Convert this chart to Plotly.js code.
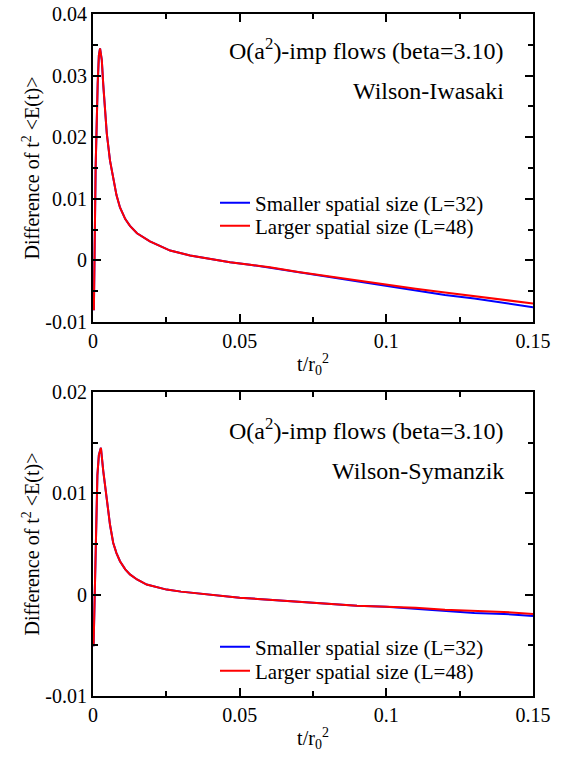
<!DOCTYPE html>
<html>
<head>
<meta charset="utf-8">
<script src="https://cdn.plot.ly/plotly-3.0.1.min.js"></script>
<style>html,body{margin:0;padding:0;background:#fff;}</style>
</head>
<body>
<div id="chart" style="width:569px;height:758px;"></div>
<script>
// ---- Data ----
// Top panel: Wilson-Iwasaki
const tTop = [0.0003,0.0006,0.0009,0.0016,0.0020,0.0024,0.0030,0.0035,0.0040,0.0047,0.0058,0.0068,0.0080,0.0092,0.0110,0.0126,0.0150,0.0194,0.0263,0.0331,0.0400,0.0467,0.0535,0.0603,0.0700,0.0800,0.0900,0.1000,0.1100,0.1200,0.1300,0.1400,0.1500];
const topL32 = [-0.0081,0.004,0.0151,0.0287,0.0333,0.0344,0.0325,0.0285,0.0250,0.0206,0.0162,0.0135,0.0106,0.0086,0.0067,0.0056,0.0044,0.0031,0.0016,0.0008,0.0002,-0.0003,-0.0007,-0.0012,-0.0020,-0.0027,-0.0034,-0.0042,-0.0049,-0.0056,-0.0062,-0.0069,-0.0076];
const topL48 = [-0.0081,0.004,0.0151,0.0287,0.0333,0.0344,0.0325,0.0285,0.0250,0.0206,0.0162,0.0135,0.0106,0.0086,0.0067,0.0056,0.0044,0.0031,0.0016,0.0008,0.0002,-0.0003,-0.0007,-0.0011,-0.0019,-0.0026,-0.0033,-0.0040,-0.0046,-0.0052,-0.0058,-0.0064,-0.0070];
// Bottom panel: Wilson-Symanzik
const tBot = [0.0002,0.0006,0.0010,0.00125,0.0015,0.0020,0.0027,0.0035,0.0047,0.0058,0.0069,0.0080,0.0092,0.0110,0.0126,0.0150,0.0183,0.0220,0.0251,0.0300,0.0365,0.0400,0.0500,0.0600,0.0700,0.0800,0.0900,0.1000,0.1100,0.1200,0.1300,0.1400,0.1500];
const botL32 = [-0.0051,0.0000,0.0075,0.0100,0.0118,0.0138,0.0145,0.0122,0.0095,0.0069,0.0051,0.0041,0.0033,0.0025,0.0020,0.0015,0.0010,0.0007,0.0005,0.0003,0.0001,0.0000,-0.0003,-0.0005,-0.0007,-0.0009,-0.0011,-0.0012,-0.0014,-0.0016,-0.0018,-0.0019,-0.0021];
const botL48 = [-0.0051,0.0000,0.0075,0.0100,0.0118,0.0138,0.0145,0.0122,0.0095,0.0069,0.0051,0.0041,0.0033,0.0025,0.0020,0.0015,0.0010,0.0007,0.0005,0.0003,0.0001,0.0000,-0.0003,-0.0005,-0.0007,-0.0009,-0.0011,-0.0012,-0.0013,-0.0015,-0.0016,-0.0017,-0.0019];

const seriesNames = ["Smaller spatial size (L=32)", "Larger spatial size (L=48)"];
const panelLabels = ["Wilson-Iwasaki", "Wilson-Symanzik"];
const panelTitle = "O(a<sup>2</sup>)-imp flows (beta=3.10)";
const xTickVals = [0, 0.05, 0.1, 0.15];
const xTickText = ["0", "0.05", "0.1", "0.15"];
const yTopTickVals = [-0.01, 0, 0.01, 0.02, 0.03, 0.04];
const yTopTickText = ["-0.01", "0", "0.01", "0.02", "0.03", "0.04"];
const yBotTickVals = [-0.01, 0, 0.01, 0.02];
const yBotTickText = ["-0.01", "0", "0.01", "0.02"];
const xTitle = "t/r<sub>0</sub><sup>2</sup>";
const yTitle = "Difference of t<sup>2</sup> &lt;E(t)&gt;";

// ---- Plot ----
const SERIF = "Liberation Serif";
const BLUE = "rgb(0,0,255)", RED = "rgb(255,0,0)";

const traces = [
  {x: tTop, y: topL32, name: seriesNames[0], mode: "lines", line: {color: BLUE, width: 2}, xaxis: "x", yaxis: "y", legend: "legend"},
  {x: tTop, y: topL48, name: seriesNames[1], mode: "lines", line: {color: RED, width: 2}, xaxis: "x", yaxis: "y", legend: "legend2"},
  {x: tBot, y: botL32, name: seriesNames[0], mode: "lines", line: {color: BLUE, width: 2}, xaxis: "x2", yaxis: "y2", legend: "legend3"},
  {x: tBot, y: botL48, name: seriesNames[1], mode: "lines", line: {color: RED, width: 2}, xaxis: "x2", yaxis: "y2", legend: "legend4"}
];

function xAxis(anchor, dom) {
  return {
    domain: dom, anchor: anchor, range: [0, 0.15],
    tickvals: xTickVals, ticktext: xTickText,
    ticks: "inside", ticklen: 8, tickwidth: 1.5, tickcolor: "#000",
    minor: {ticks: "inside", ticklen: 5, tickwidth: 1.5, tickcolor: "#000", tickvals: [0.025, 0.075, 0.125]},
    showline: true, linewidth: 2, linecolor: "#000", mirror: "ticks",
    showgrid: false, zeroline: false,
    tickfont: {family: SERIF, size: 20, color: "#000"},
    title: {text: xTitle, font: {family: SERIF, size: 20, color: "#000"}, standoff: 6}
  };
}
function yAxis(anchor, dom, range, vals, text, minorVals) {
  return {
    domain: dom, anchor: anchor, range: range,
    tickvals: vals, ticktext: text,
    ticks: "inside", ticklen: 8, tickwidth: 1.5, tickcolor: "#000",
    minor: {ticks: "inside", ticklen: 5, tickwidth: 1.5, tickcolor: "#000", tickvals: minorVals},
    showline: true, linewidth: 2, linecolor: "#000", mirror: "ticks",
    showgrid: false, zeroline: false,
    tickfont: {family: SERIF, size: 20, color: "#000"},
    title: {text: yTitle, font: {family: SERIF, size: 20, color: "#000"}, standoff: 0}
  };
}

const W = 569, H = 758;
const px = v => v / W, py = v => 1 - v / H;
function leg(yc) {
  return {x: px(215), y: py(yc), xanchor: "left", yanchor: "middle", bgcolor: "rgba(0,0,0,0)",
          font: {family: SERIF, size: 21, color: "#000"}, itemwidth: 30};
}

const layout = {
  width: W, height: H,
  margin: {l: 0, r: 0, t: 0, b: 0},
  paper_bgcolor: "#fff", plot_bgcolor: "#fff",
  font: {family: SERIF, size: 20, color: "#000"},
  xaxis: xAxis("y", [px(93), px(533)]),
  yaxis: yAxis("x", [py(322), py(14)], [-0.01, 0.04], yTopTickVals, yTopTickText, [-0.005, 0.005, 0.015, 0.025, 0.035]),
  xaxis2: xAxis("y2", [px(93), px(533)]),
  yaxis2: yAxis("x2", [py(696), py(392)], [-0.01, 0.02], yBotTickVals, yBotTickText, [-0.005, 0.005, 0.015]),
  showlegend: true,
  legend: leg(203),
  legend2: leg(226),
  legend3: leg(647),
  legend4: leg(671),
  annotations: [
    {xref: "paper", yref: "paper", x: px(506), y: py(49), xanchor: "right", yanchor: "middle", showarrow: false,
     text: panelTitle, font: {family: SERIF, size: 24, color: "#000"}},
    {xref: "paper", yref: "paper", x: px(506), y: py(91), xanchor: "right", yanchor: "middle", showarrow: false,
     text: panelLabels[0], font: {family: SERIF, size: 24, color: "#000"}},
    {xref: "paper", yref: "paper", x: px(506), y: py(429), xanchor: "right", yanchor: "middle", showarrow: false,
     text: panelTitle, font: {family: SERIF, size: 24, color: "#000"}},
    {xref: "paper", yref: "paper", x: px(506), y: py(471), xanchor: "right", yanchor: "middle", showarrow: false,
     text: panelLabels[1], font: {family: SERIF, size: 24, color: "#000"}}
  ]
};

Plotly.newPlot("chart", traces, layout, {displayModeBar: false});
</script>
</body>
</html>
